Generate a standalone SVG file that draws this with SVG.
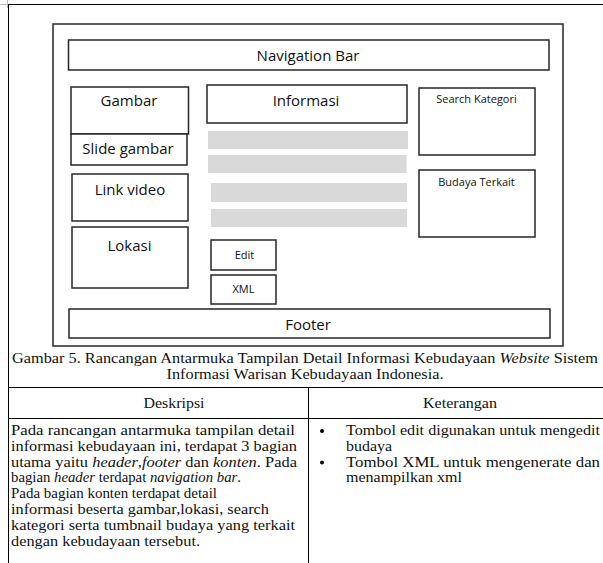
<svg xmlns="http://www.w3.org/2000/svg" width="603" height="563" viewBox="0 0 603 563">
<style>
.box{fill:#fff;stroke:#262626;stroke-width:1.5}
.bar{fill:#d9d9d9;stroke:none}
.tl{stroke:#000;stroke-width:1;fill:none}
.w{font-family:"Open Sans","Liberation Sans",sans-serif;font-size:15px;fill:#111;text-anchor:middle}
.ws{font-family:"Open Sans","Liberation Sans",sans-serif;font-size:11px;fill:#111;text-anchor:middle}
.t{font-family:"Liberation Serif","Times New Roman",serif;font-size:15px;fill:#111}
.i{font-style:italic}
</style>
<rect width="603" height="563" fill="#fff"/>
<g id="table">
<path d="M0 4.5H8M7.5 0V8" stroke="#bbb" stroke-width="1" fill="none"/>
<path class="tl" d="M8 4.5H603M8.5 4.5V563M8 387.5H603M8 418.5H603M308.5 387.5V563"/>
</g>
<g id="wireframe">
<rect class="box" x="53" y="24" width="510" height="322"/>
<g id="nav"><rect class="box" x="68.5" y="40" width="480.5" height="30"/><text class="w" x="308" y="60.5">Navigation Bar</text></g>
<g id="gambar"><rect class="box" x="71" y="87" width="117.5" height="47"/><text class="w" x="129" y="105.5">Gambar</text></g>
<g id="slide"><rect class="box" x="71" y="134" width="116" height="31"/><text class="w" x="128" y="153.5">Slide gambar</text></g>
<g id="informasi"><rect class="box" x="207" y="85" width="200" height="38"/><text class="w" x="306" y="105.5">Informasi</text></g>
<g id="search"><rect class="box" x="419" y="88" width="116" height="67"/><text class="ws" x="476.5" y="103">Search Kategori</text></g>
<g id="bars">
<rect class="bar" x="208" y="131" width="200" height="18"/>
<rect class="bar" x="208" y="155" width="198.5" height="18"/>
<rect class="bar" x="211" y="183" width="196" height="19"/>
<rect class="bar" x="211" y="209" width="196" height="18"/>
</g>
<g id="linkvideo"><rect class="box" x="72" y="174" width="116" height="47"/><text class="w" x="130" y="194.5">Link video</text></g>
<g id="budaya"><rect class="box" x="419" y="170" width="116" height="67"/><text class="ws" x="476.5" y="186">Budaya Terkait</text></g>
<g id="lokasi"><rect class="box" x="72" y="227" width="116" height="61"/><text class="w" x="129.5" y="250.5">Lokasi</text></g>
<g id="edit"><rect class="box" x="211" y="240" width="65" height="30"/><text class="ws" x="244.5" y="258.5">Edit</text></g>
<g id="xml"><rect class="box" x="211" y="275" width="65" height="29"/><text class="ws" x="243.5" y="293">XML</text></g>
<g id="footer"><rect class="box" x="69" y="309" width="481" height="29"/><text class="w" x="308" y="330">Footer</text></g>
</g>
<g id="caption">
<text class="t" x="12" y="363" textLength="586" lengthAdjust="spacingAndGlyphs">Gambar 5. Rancangan Antarmuka Tampilan Detail Informasi Kebudayaan <tspan class="i">Website</tspan> Sistem</text>
<text class="t" x="166.5" y="379" textLength="277" lengthAdjust="spacingAndGlyphs">Informasi Warisan Kebudayaan Indonesia.</text>
</g>
<g id="header">
<text class="t" x="143.5" y="408" textLength="61" lengthAdjust="spacingAndGlyphs">Deskripsi</text>
<text class="t" x="423" y="408" textLength="74" lengthAdjust="spacingAndGlyphs">Keterangan</text>
</g>
<g id="deskripsi">
<text class="t" x="11" y="435" textLength="284" lengthAdjust="spacingAndGlyphs">Pada rancangan antarmuka tampilan detail</text>
<text class="t" x="11" y="450.8" textLength="286" lengthAdjust="spacingAndGlyphs">informasi kebudayaan ini, terdapat 3 bagian</text>
<text class="t" x="11" y="466.6" textLength="286" lengthAdjust="spacingAndGlyphs">utama yaitu <tspan class="i">header</tspan>,<tspan class="i">footer</tspan> dan <tspan class="i">konten</tspan>. Pada</text>
<text class="t" x="11" y="482.4" textLength="230" lengthAdjust="spacingAndGlyphs">bagian <tspan class="i">header</tspan> terdapat <tspan class="i">navigation bar</tspan>.</text>
<text class="t" x="11" y="498.2" textLength="206" lengthAdjust="spacingAndGlyphs">Pada bagian konten terdapat detail</text>
<text class="t" x="11" y="514" textLength="258" lengthAdjust="spacingAndGlyphs">informasi beserta gambar,lokasi, search</text>
<text class="t" x="11" y="529.8" textLength="284" lengthAdjust="spacingAndGlyphs">kategori serta tumbnail budaya yang terkait</text>
<text class="t" x="11" y="545.6" textLength="189" lengthAdjust="spacingAndGlyphs">dengan kebudayaan tersebut.</text>
</g>
<g id="keterangan">
<circle cx="322" cy="431" r="2"/>
<circle cx="322" cy="462.6" r="2"/>
<text class="t" x="346" y="435" textLength="254" lengthAdjust="spacingAndGlyphs">Tombol edit digunakan untuk mengedit</text>
<text class="t" x="346" y="450.8" textLength="46" lengthAdjust="spacingAndGlyphs">budaya</text>
<text class="t" x="346" y="466.6" textLength="254" lengthAdjust="spacingAndGlyphs">Tombol XML untuk mengenerate dan</text>
<text class="t" x="346" y="482.4" textLength="116" lengthAdjust="spacingAndGlyphs">menampilkan xml</text>
</g>
</svg>
